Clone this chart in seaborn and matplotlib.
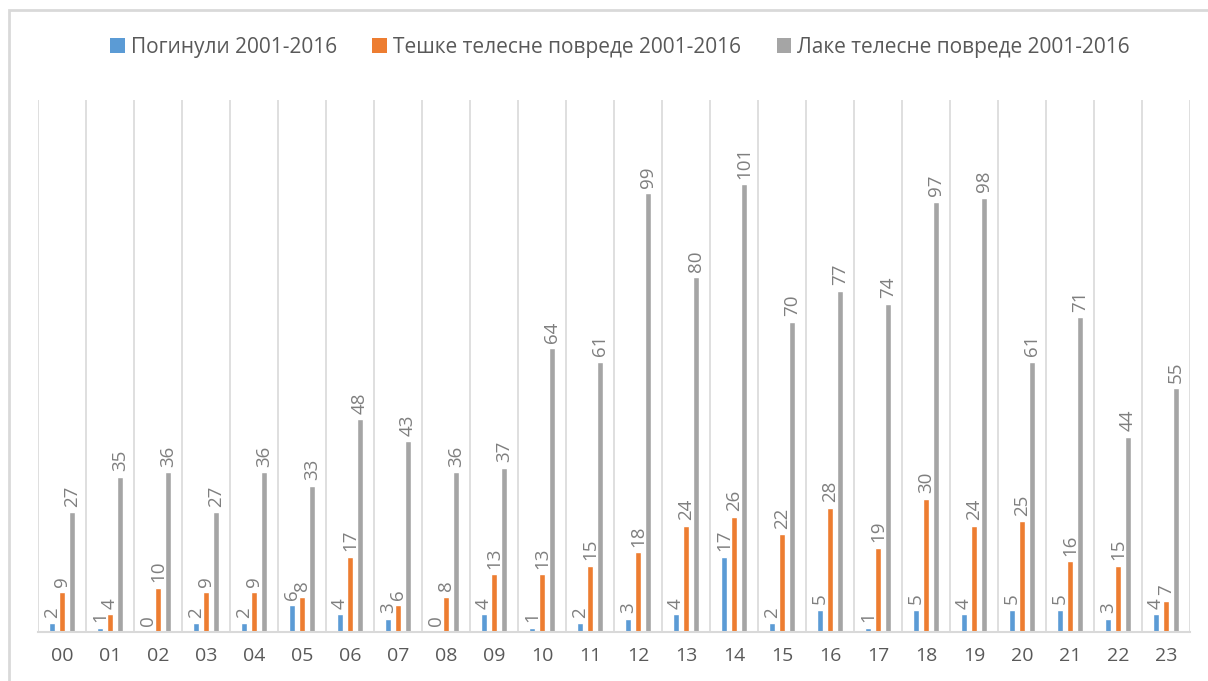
import pandas as pd
import matplotlib.pyplot as plt
import seaborn as sns
from matplotlib.patches import Rectangle, Patch

# data
hours = ['00', '01', '02', '03', '04', '05', '06', '07', '08', '09', '10', '11',
         '12', '13', '14', '15', '16', '17', '18', '19', '20', '21', '22', '23']
killed = [2, 1, 0, 2, 2, 6, 4, 3, 0, 4, 1, 2, 3, 4, 17, 2, 5, 1, 5, 4, 5, 5, 3, 4]
serious = [9, 4, 10, 9, 9, 8, 17, 6, 8, 13, 13, 15, 18, 24, 26, 22, 28, 19, 30, 24, 25, 16, 15, 7]
light = [27, 35, 36, 27, 36, 33, 48, 43, 36, 37, 64, 61, 99, 80, 101, 70, 77, 74, 97, 98, 61, 71, 44, 55]
series_names = ['Погинули 2001-2016', 'Тешке телесне повреде 2001-2016', 'Лаке телесне повреде 2001-2016']
colors = ['#5b9bd5', '#ed7d31', '#a5a5a5']

df = pd.DataFrame({
    'Hour': hours * 3,
    'Value': killed + serious + light,
    'Series': [series_names[0]] * 24 + [series_names[1]] * 24 + [series_names[2]] * 24,
})

sns.set_style('white')
plt.rcParams['font.family'] = ['Open Sans', 'DejaVu Sans']

fig = plt.figure(figsize=(12.08, 6.81), dpi=100)
ax = fig.add_axes([38 / 1208, 1 - 632 / 681, (1190 - 38) / 1208, (632 - 100) / 681])

sns.barplot(
    data=df, x='Hour', y='Value', hue='Series',
    palette=colors, saturation=1, width=0.625, gap=0.38, ax=ax, legend=False,
)

ax.set_ylim(0, 120)
ax.set_xlim(-0.5, 23.5)
ax.set_xlabel('')
ax.set_ylabel('')
ax.set_yticks([])
for s in ['top', 'left', 'right']:
    ax.spines[s].set_visible(False)
ax.spines['bottom'].set_color('#d9d9d9')
ax.spines['bottom'].set_linewidth(1.5)

# vertical separators between hours
for x in [i - 0.5 for i in range(25)]:
    ax.axvline(x, color='#d9d9d9', lw=1.2, zorder=0)

ax.tick_params(axis='x', length=0, pad=11, labelsize=14, labelcolor='#595959')

# value labels
for cont in ax.containers:
    ax.bar_label(cont, fmt='%d', rotation=90, padding=4, fontsize=13.5, color='#7f7f7f')

handles = [Patch(facecolor=c, edgecolor='none') for c in colors]
ax.legend(handles, series_names, loc='center', bbox_to_anchor=(620 / 1208, (681 - 47) / 681),
          bbox_transform=fig.transFigure, ncol=3, frameon=False, fontsize=15,
          labelcolor='#595959', handlelength=0.7, handleheight=0.7, handletextpad=0.3,
          columnspacing=1.7)

# outer chart border
fig.patches.append(Rectangle((9 / 1208, -0.1), 1.2, 1 - 10 / 681 + 0.1,
                             transform=fig.transFigure, fill=False,
                             edgecolor='#d9d9d9', lw=2))

fig.savefig('out.png', dpi=100)
